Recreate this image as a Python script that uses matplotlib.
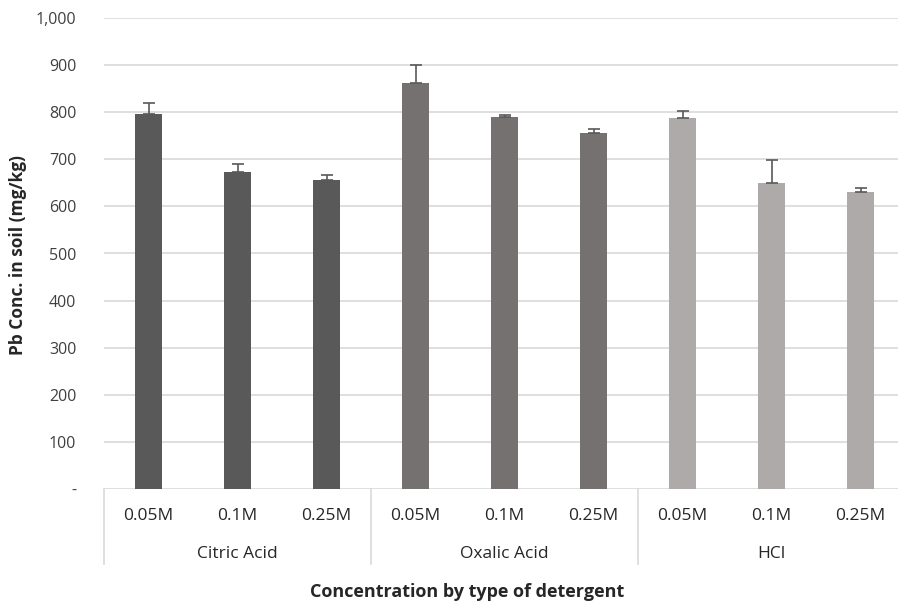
import matplotlib.pyplot as plt
from matplotlib.ticker import FuncFormatter

# values
groups = ['Citric Acid', 'Oxalic Acid', 'HCl']
concs = ['0.05M', '0.1M', '0.25M']
pb_conc = [797, 674, 656, 862, 789, 756, 787, 650, 630]
pb_err = [22, 15, 11, 38, 4, 8, 15, 48, 10]
group_colors = ['#595959', '#767171', '#aeaaaa']

plt.rcParams['font.family'] = ['Open Sans', 'DejaVu Sans']

fig = plt.figure(figsize=(8.98, 6.05), dpi=100)
ax = fig.add_axes([104 / 898, 1 - 489 / 605, 801 / 898, 471 / 605])

x = list(range(len(pb_conc)))
colors = [group_colors[i // 3] for i in x]
ax.bar(x, pb_conc, width=0.3, color=colors, zorder=2)
ax.errorbar(x, pb_conc, yerr=[[0] * len(pb_err), pb_err], fmt='none',
            ecolor='#595959', elinewidth=1.2, capsize=4, capthick=1.2, zorder=3)

ax.set_xlim(-0.5, 8.5)
ax.set_ylim(0, 1000)
ax.set_yticks(range(0, 1001, 100))
ax.yaxis.set_major_formatter(FuncFormatter(lambda v, p: '-' if v == 0 else f'{int(v):,}'))
ax.grid(axis='y', color='#d9d9d9', linewidth=1.2, zorder=0)
for s in ['top', 'right', 'left', 'bottom']:
    ax.spines[s].set_visible(False)
ax.tick_params(axis='y', length=0, pad=20, labelsize=11.5, labelcolor='#404040')
ax.set_xticks([])

# category labels below the axis
trans = ax.get_xaxis_transform()
for i in x:
    ax.text(i, -0.057, concs[i % 3], transform=trans, ha='center', va='center',
            fontsize=12.5, color='#262626')
for g, name in enumerate(groups):
    ax.text(3 * g + 1, -0.137, name, transform=trans, ha='center', va='center',
            fontsize=12.5, color='#262626')
for xb in [-0.5, 2.5, 5.5, 8.5]:
    ax.plot([xb, xb], [0, -0.16], transform=trans, color='#d9d9d9',
            linewidth=1.2, clip_on=False)

fig.text(18 / 898, 1 - 255 / 605, 'Pb Conc. in soil (mg/kg)', rotation=90,
         ha='center', va='center', fontsize=12.5, fontweight='bold', color='#262626')
fig.text(467 / 898, 1 - 592 / 605, 'Concentration by type of detergent',
         ha='center', va='center', fontsize=13, fontweight='bold', color='#262626')

fig.savefig('out.png', dpi=100)
